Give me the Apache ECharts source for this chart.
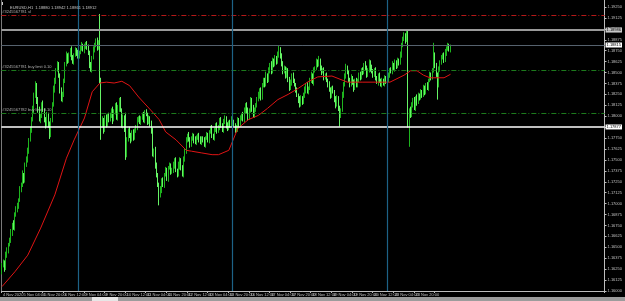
<!DOCTYPE html>
<html><head><meta charset="utf-8">
<script src="https://cdn.jsdelivr.net/npm/echarts@6/dist/echarts.min.js"></script>
<style>html,body{margin:0;padding:0;background:#000;overflow:hidden}#c{width:625px;height:301px}</style>
</head><body><div id="c"></div>
<script>
// ---- data (EURUSD H1, 4 Nov 2020 12:00 -> 24 Nov 2020) ----
const firstOpen = 1.1624;
const closes = [
 1.1630,1.1633,1.1626,1.1641,1.1647,1.1653,1.1658,1.1667,1.1676,1.1672,1.1687,1.1693,
 1.1698,1.1704,1.1716,1.1721,1.1733,1.1727,1.1744,1.1750,1.1761,1.1773,1.1784,1.1796,1.1807,1.1824,1.1836,1.1819,1.1807,1.1796,1.1801,1.1813,1.1807,1.1796,1.1790,1.1801,
 1.1790,1.1778,1.1796,1.1813,1.1830,1.1841,1.1853,1.1859,1.1847,1.1830,1.1819,1.1824,1.1841,1.1859,1.1870,1.1864,1.1870,1.1876,1.1867,1.1862,1.1870,1.1876,1.1873,1.1869,
 1.1873,1.1878,1.1881,1.1876,1.1880,1.1883,1.1878,1.1873,1.1859,1.1853,1.1867,1.1876,1.1881,1.1887,1.1878,1.1885,1.1841,1.1790,1.1796,1.1784,1.1798,1.1790,1.1801,1.1796,
 1.1801,1.1807,1.1796,1.1805,1.1813,1.1798,1.1809,1.1819,1.1807,1.1790,1.1798,1.1784,1.1756,1.1773,1.1784,1.1778,1.1773,1.1782,1.1775,1.1784,1.1786,1.1796,1.1798,1.1793,
 1.1798,1.1801,1.1796,1.1805,1.1802,1.1793,1.1798,1.1791,1.1784,1.1756,1.1761,1.1744,1.1733,1.1721,1.1710,1.1716,1.1727,1.1721,1.1733,1.1738,1.1729,1.1741,1.1744,1.1736,
 1.1738,1.1744,1.1750,1.1738,1.1733,1.1744,1.1750,1.1741,1.1733,1.1750,1.1761,1.1773,1.1778,1.1773,1.1767,1.1775,1.1778,1.1773,1.1770,1.1775,1.1778,1.1773,1.1770,1.1775,
 1.1773,1.1767,1.1775,1.1778,1.1773,1.1782,1.1786,1.1778,1.1775,1.1784,1.1790,1.1784,1.1786,1.1796,1.1790,1.1784,1.1793,1.1798,1.1790,1.1786,1.1793,1.1790,1.1796,1.1793,
 1.1790,1.1784,1.1786,1.1796,1.1790,1.1798,1.1801,1.1796,1.1807,1.1813,1.1805,1.1798,1.1807,1.1819,1.1809,1.1801,1.1807,1.1813,1.1819,1.1824,1.1830,1.1821,1.1836,1.1841,
 1.1836,1.1847,1.1841,1.1853,1.1859,1.1851,1.1864,1.1859,1.1867,1.1862,1.1870,1.1876,1.1870,1.1859,1.1851,1.1855,1.1847,1.1853,1.1841,1.1832,1.1839,1.1847,1.1841,1.1836,
 1.1830,1.1824,1.1819,1.1813,1.1821,1.1816,1.1824,1.1830,1.1836,1.1828,1.1832,1.1841,1.1847,1.1839,1.1853,1.1855,1.1862,1.1859,1.1864,1.1855,1.1851,1.1853,1.1844,1.1847,
 1.1841,1.1836,1.1830,1.1824,1.1832,1.1828,1.1819,1.1813,1.1821,1.1809,1.1801,1.1807,1.1824,1.1836,1.1847,1.1855,1.1851,1.1841,1.1836,1.1844,1.1839,1.1832,1.1841,1.1836,
 1.1841,1.1847,1.1844,1.1853,1.1851,1.1859,1.1855,1.1847,1.1853,1.1862,1.1855,1.1851,1.1847,1.1853,1.1844,1.1839,1.1846,1.1841,1.1836,1.1841,1.1837,1.1844,1.1839,1.1841,
 1.1847,1.1853,1.1851,1.1859,1.1855,1.1862,1.1857,1.1864,1.1861,1.1870,1.1881,1.1889,1.1893,1.1887,1.1895,1.1790,1.1807,1.1801,1.1813,1.1819,1.1809,1.1821,1.1816,1.1824,
 1.1821,1.1828,1.1824,1.1832,1.1828,1.1836,1.1832,1.1841,1.1847,1.1844,1.1853,1.1870,1.1859,1.1847,1.1836,1.1853,1.1862,1.1867,1.1870,1.1864,1.1873,1.1878,1.1881,1.1876,1.1879
];
// wick lengths above / below the body, in pips
const wickUp = [
 2,3,2,4,3,2,3,4,2,5,3,4,
 3,2,4,3,5,2,3,4,3,2,4,3,5,3,4,2,3,4,2,3,5,2,3,4,
 3,4,2,3,5,3,2,4,3,2,3,4,2,3,4,2,3,2,4,3,2,3,2,3,
 2,3,4,2,3,2,3,4,2,3,2,4,3,2,3,2,32,3,4,2,3,4,2,3,
 3,2,4,3,2,3,4,2,3,2,4,3,20,3,2,4,3,2,3,2,4,3,2,3,
 2,3,4,2,3,2,3,2,4,3,2,4,3,2,3,4,2,3,2,4,3,2,3,2,
 3,4,2,3,2,4,3,2,3,4,2,3,2,4,3,2,3,2,4,3,2,3,4,2,
 2,3,2,4,3,2,3,4,2,3,2,3,4,2,3,2,4,3,2,3,2,3,4,2,
 3,2,4,3,2,3,2,4,3,2,3,5,2,3,2,4,3,2,3,4,2,3,2,3,
 3,4,2,3,2,4,3,2,3,2,4,5,3,2,4,3,2,3,2,4,3,2,3,2,
 2,3,2,4,3,2,3,4,2,3,2,3,4,2,3,2,4,3,5,2,3,2,3,2,
 3,2,4,3,2,3,2,4,3,2,3,2,4,3,2,5,3,2,3,4,2,3,2,3,
 2,3,4,2,3,2,4,3,2,3,2,4,3,2,3,2,3,4,2,3,2,3,2,3,
 3,2,3,4,2,3,2,3,2,4,3,2,3,2,4,3,2,4,3,2,3,2,4,3,
 2,3,2,4,3,2,3,2,4,3,2,14,3,2,3,4,2,3,2,3,4,2,3,2,3
];
const wickDn = [
 5,3,4,2,3,4,2,3,4,2,3,2,
 3,4,2,3,2,4,3,2,3,4,2,3,2,4,3,5,3,2,4,3,2,3,4,2,
 3,4,2,3,2,3,4,2,3,4,2,3,2,3,2,4,3,2,3,2,3,2,4,3,
 3,2,3,2,4,3,2,3,4,2,3,2,3,2,3,2,3,17,3,4,2,3,2,3,
 2,3,5,2,3,2,3,4,2,3,4,2,6,3,2,3,4,2,3,2,3,2,3,2,
 3,2,3,4,2,3,2,3,4,2,3,4,3,2,12,3,4,2,3,2,3,4,2,3,
 2,3,4,2,3,2,5,3,2,3,2,4,3,2,3,2,3,4,2,3,2,3,2,3,
 3,2,3,2,3,4,2,3,2,3,2,4,3,2,3,2,3,2,4,3,2,3,2,3,
 2,3,2,4,3,2,3,2,3,4,2,3,2,3,4,2,3,2,3,2,4,3,2,3,
 3,2,3,2,4,3,2,3,2,3,2,3,4,2,3,2,4,3,2,3,2,4,3,2,
 3,2,4,3,2,3,2,3,4,2,3,2,3,2,4,3,2,3,2,3,4,2,3,2,
 2,3,2,4,3,2,3,4,2,3,13,3,2,3,2,4,3,2,3,2,3,4,2,3,
 3,2,3,2,4,3,2,3,2,3,4,2,3,2,3,2,4,3,2,3,2,3,2,3,
 2,3,2,3,2,4,3,2,3,2,3,2,3,4,2,3,25,3,2,3,2,3,4,2,
 3,2,3,2,4,3,2,3,2,3,2,3,4,2,17,3,2,3,2,3,2,4,3,2,3
];
// moving average (red) read at these bar indices
const maIndex  = [0,10,20,30,41,50,56,64,70,76,81,87,93,99,106,116,122,127,135,143,147,155,163,168,176,183,191,199,206,214,222,230,237,245,256,268,280,291,301,312,317,322,327,332,343,348];
const maValues = [1.1605,1.1622,1.1641,1.1672,1.1710,1.1752,1.1773,1.1798,1.1828,1.1838,1.1839,1.1838,1.1840,1.1835,1.1822,1.1806,1.1796,1.1782,1.1773,1.1761,1.1760,1.1758,1.1756,1.1756,1.1761,1.1786,1.1796,1.1801,1.1809,1.1819,1.1825,1.1832,1.1839,1.1845,1.1846,1.1839,1.1839,1.1839,1.1839,1.1847,1.1852,1.1852,1.1847,1.1844,1.1844,1.1848];
const tickLabels = ['4 Nov 2020','5 Nov 04:00','5 Nov 20:00','6 Nov 12:00','9 Nov 04:00','9 Nov 20:00','10 Nov 12:00','11 Nov 04:00','11 Nov 20:00','12 Nov 12:00','13 Nov 04:00','13 Nov 20:00','16 Nov 12:00','17 Nov 04:00','17 Nov 20:00','18 Nov 12:00','19 Nov 04:00','19 Nov 20:00','20 Nov 12:00','23 Nov 04:00','23 Nov 20:00','24 Nov 12:00'];
const weekEndBars = [59, 179, 299];
const slPrice = 1.19158;
const levelGrey = 1.18986;
const levelSlate = 1.18815;
const buyLimit1 = 1.18529;
const buyLimit2 = 1.18037;
const levelWhite = 1.17877;
const headerText = 'EURUSD,H1  1.18880 1.18942 1.18861 1.18912';
const slText = '#3245567781 sl';
const buyText1 = '#3245567781 buy limit 0.10';
const buyText2 = '#3245567782 buy limit 0.10';

// ---- build ----
const SLOTS = 468, LABEL_EVERY = 16;
const cats = [];
for (let i = 0; i < SLOTS; i++) {
  const k = i / LABEL_EVERY;
  cats.push(i % LABEL_EVERY === 0 && k < tickLabels.length ? tickLabels[k] : '');
}
const ohlc = closes.map((c, i) => {
  const o = i === 0 ? firstOpen : closes[i - 1];
  const hi = Math.max(o, c) + wickUp[i] / 10000;
  const lo = Math.min(o, c) - wickDn[i] / 10000;
  return [o, c, lo, hi];
});
const maData = maIndex.map((ix, j) => [ix, maValues[j]]);

const FONT = 'Liberation Sans';
const dashDot = [5, 2, 1, 2];
function hLine(v, color, width, type, left, right) {
  const d = { yAxis: v, lineStyle: { color, width, type } };
  if (left) d.label = { show: true, position: 'insideStartTop', distance: 1, formatter: left, color: '#b0b0b0', fontSize: 4, fontFamily: FONT };
  else if (right) d.label = { show: true, position: 'end', distance: 1, formatter: v.toFixed(5), color: '#000', backgroundColor: right, fontSize: 4, fontFamily: FONT, padding: [1, 1, 0, 1] };
  else d.label = { show: false };
  return d;
}

const chart = echarts.init(document.getElementById('c'), null, { renderer: 'canvas' });
chart.setOption({
  backgroundColor: '#000',
  animation: false,
  title: { text: headerText, left: 5, top: 1, textStyle: { color: '#c8c8c8', fontSize: 4, fontWeight: 'normal', fontFamily: FONT } },
  grid: { left: 1, top: 0, width: 608, height: 291 },
  xAxis: {
    type: 'category', data: cats, boundaryGap: true,
    axisLine: { show: true, lineStyle: { color: '#bdbdbd', width: 1 } },
    axisTick: { show: true, length: 2, interval: (i) => i % LABEL_EVERY === 0 && i / LABEL_EVERY < tickLabels.length, lineStyle: { color: '#bdbdbd' } },
    axisLabel: { interval: (i) => i % LABEL_EVERY === 0 && i / LABEL_EVERY < tickLabels.length, color: '#c0c0c0', fontSize: 4, fontFamily: FONT, align: 'left', margin: 2, padding: [0, 0, 0, 1] },
    splitLine: { show: false }
  },
  yAxis: {
    type: 'value', position: 'right', scale: true,
    min: 1.16, max: 1.19330, interval: 0.00125,
    axisLine: { show: true, lineStyle: { color: '#bdbdbd' } },
    axisTick: { show: true, length: 2, lineStyle: { color: '#bdbdbd' } },
    axisLabel: { color: '#c0c0c0', fontSize: 4, fontFamily: FONT, margin: 3, formatter: (v) => v.toFixed(5), showMaxLabel: false },
    splitLine: { show: false }
  },
  series: [
    {
      type: 'candlestick', data: ohlc, barWidth: 0.6,
      itemStyle: { color: '#14a014', color0: '#5cf05c', borderColor: '#1eb41e', borderColor0: '#66f466', borderWidth: 1 },
      markLine: {
        silent: true, symbol: ['none', 'none'], animation: false, precision: 5,
        data: [
          hLine(slPrice, '#b41818', 1, dashDot, slText, null),
          hLine(levelGrey, '#9a9a9a', 2, 'solid', null, '#c8c8c8'),
          hLine(levelSlate, '#56626e', 1, 'solid', null, '#ffffff'),
          hLine(buyLimit1, '#1c7a1c', 1, dashDot, buyText1, null),
          hLine(buyLimit2, '#1c7a1c', 1, dashDot, buyText2, null),
          hLine(levelWhite, '#ffffff', 1.5, 'solid', null, '#ffffff')
        ].concat(weekEndBars.map(b => ({ xAxis: b, lineStyle: { color: '#1d6286', width: 1.2, type: 'solid' }, label: { show: false } })))
      }
    },
    {
      type: 'line', data: maData, showSymbol: false, symbol: 'none', smooth: false,
      lineStyle: { color: '#e01414', width: 1 }, z: 3
    }
  ],
  graphic: [
    { type: 'rect', left: 1, top: 2, shape: { width: 2, height: 3 }, style: { fill: '#c8c8c8' } },
    { type: 'rect', left: 0, top: 297, shape: { width: 625, height: 4 }, style: { fill: '#9c9c9c' } },
    { type: 'rect', left: 92, top: 297, shape: { width: 26, height: 4 }, style: { fill: '#e6e6e6' } },
    { type: 'rect', left: 1, top: 0, shape: { width: 1, height: 292 }, style: { fill: '#7a7a7a' } }
  ]
});
</script>
</body></html>
